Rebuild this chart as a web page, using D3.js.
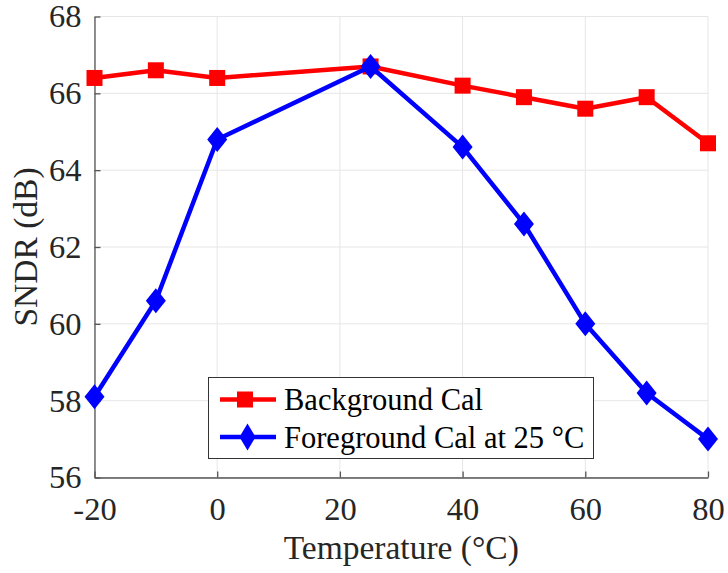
<!DOCTYPE html>
<html>
<head>
<meta charset="utf-8">
<script src="https://cdn.jsdelivr.net/npm/d3@7"></script>
<style>
  html, body { margin: 0; padding: 0; background: #fff; }
  svg { display: block; }
</style>
</head>
<body>
<svg id="chart" width="728" height="573"></svg>
<script>
// Temperature sweep (°C) and measured SNDR (dB)
const temperatures = [-20, -10, 0, 25, 40, 50, 60, 70, 80];
const backgroundCal = [66.4, 66.6, 66.4, 66.7, 66.2, 65.9, 65.6, 65.9, 64.7];
const foregroundCal = [58.1, 60.6, 64.8, 66.7, 64.6, 62.6, 60.0, 58.2, 57.0];
const xTicks = [-20, 0, 20, 40, 60, 80];
const yTicks = [56, 58, 60, 62, 64, 66, 68];
const seriesNames = ["Background Cal", "Foreground Cal at 25 \u00B0C"];

const FONT = "Liberation Serif";
const svg = d3.select("#chart").style("font-family", FONT);
const plot = { left: 94.5, right: 708, top: 16.5, bottom: 477.5 };

const x = d3.scaleLinear().domain([-20, 80]).range([plot.left, plot.right]);
const y = d3.scaleLinear().domain([56, 68]).range([plot.bottom, plot.top]);

// grid
const grid = svg.append("g").attr("stroke", "#e6e6e6").attr("stroke-width", 1);
grid.selectAll(".gx").data(xTicks).join("line")
  .attr("x1", d => x(d)).attr("x2", d => x(d))
  .attr("y1", plot.top).attr("y2", plot.bottom);
grid.selectAll(".gy").data(yTicks).join("line")
  .attr("x1", plot.left).attr("x2", plot.right)
  .attr("y1", d => y(d)).attr("y2", d => y(d));

// axes with inward ticks
const xAxis = d3.axisBottom(x).tickValues(xTicks).tickSizeInner(-6).tickSizeOuter(0).tickPadding(19)
  .tickFormat(d => d < 0 ? "-" + Math.abs(d) : String(d));
const yAxis = d3.axisLeft(y).tickValues(yTicks).tickSizeInner(-6).tickSizeOuter(0).tickPadding(13)
  .tickFormat(d3.format("d"));

const gx = svg.append("g").attr("transform", `translate(0,${plot.bottom})`).call(xAxis);
const gy = svg.append("g").attr("transform", `translate(${plot.left},0)`).call(yAxis);
[gx, gy].forEach(g => {
  g.attr("font-family", FONT).attr("font-size", 32.5);
  g.select(".domain").attr("stroke", "#555").attr("stroke-width", 1.3);
  g.selectAll(".tick line").attr("stroke", "#555").attr("stroke-width", 1.3);
  g.selectAll(".tick text").style("font-family", FONT)
    .style("font-size", "32.5px").attr("fill", "#262626");
});

// axis labels
svg.append("text").attr("x", (plot.left + plot.right) / 2).attr("y", 558.5)
  .attr("text-anchor", "middle").style("font-family", FONT).style("font-size", "33.5px")
  .attr("fill", "#262626").text("Temperature (\u00B0C)");
svg.append("text").attr("transform", `translate(37,${(plot.top + plot.bottom) / 2}) rotate(-90)`)
  .attr("text-anchor", "middle").style("font-family", FONT).style("font-size", "33.5px")
  .attr("fill", "#262626").text("SNDR (dB)");

const line = d3.line().x(d => x(d[0])).y(d => y(d[1]));
const diamond = (cx, cy, w, h) => `M${cx},${cy - h / 2}L${cx + w / 2},${cy}L${cx},${cy + h / 2}L${cx - w / 2},${cy}Z`;

function drawSeries(values, color, marker) {
  const pts = temperatures.map((t, i) => [t, values[i]]);
  svg.append("path").datum(pts).attr("d", line)
    .attr("fill", "none").attr("stroke", color).attr("stroke-width", 4.5).attr("stroke-linejoin", "round");
  const g = svg.append("g").attr("fill", color);
  if (marker === "square") {
    g.selectAll("rect").data(pts).join("rect")
      .attr("x", d => x(d[0]) - 8).attr("y", d => y(d[1]) - 8)
      .attr("width", 16).attr("height", 16);
  } else {
    g.selectAll("path").data(pts).join("path")
      .attr("d", d => diamond(x(d[0]), y(d[1]), 20, 25));
  }
}
drawSeries(backgroundCal, "#ff0000", "square");
drawSeries(foregroundCal, "#0000ff", "diamond");

// legend
const lg = svg.append("g");
lg.append("rect").attr("x", 208.5).attr("y", 377.5).attr("width", 385).attr("height", 81)
  .attr("fill", "#fff").attr("stroke", "#333").attr("stroke-width", 1);
const legendRows = [
  { name: seriesNames[0], color: "#ff0000", marker: "square", cy: 399.5 },
  { name: seriesNames[1], color: "#0000ff", marker: "diamond", cy: 437 }
];
legendRows.forEach(r => {
  lg.append("line").attr("x1", 220).attr("x2", 276).attr("y1", r.cy).attr("y2", r.cy)
    .attr("stroke", r.color).attr("stroke-width", 4.5);
  if (r.marker === "square") {
    lg.append("rect").attr("x", 237).attr("y", r.cy - 8).attr("width", 16).attr("height", 16).attr("fill", r.color);
  } else {
    lg.append("path").attr("d", diamond(247.5, r.cy, 16, 27)).attr("fill", r.color);
  }
  lg.append("text").attr("x", 284).attr("y", r.cy + 10.5).style("font-family", FONT)
    .style("font-size", "30.5px").attr("fill", "#000").text(r.name);
});
</script>
</body>
</html>
